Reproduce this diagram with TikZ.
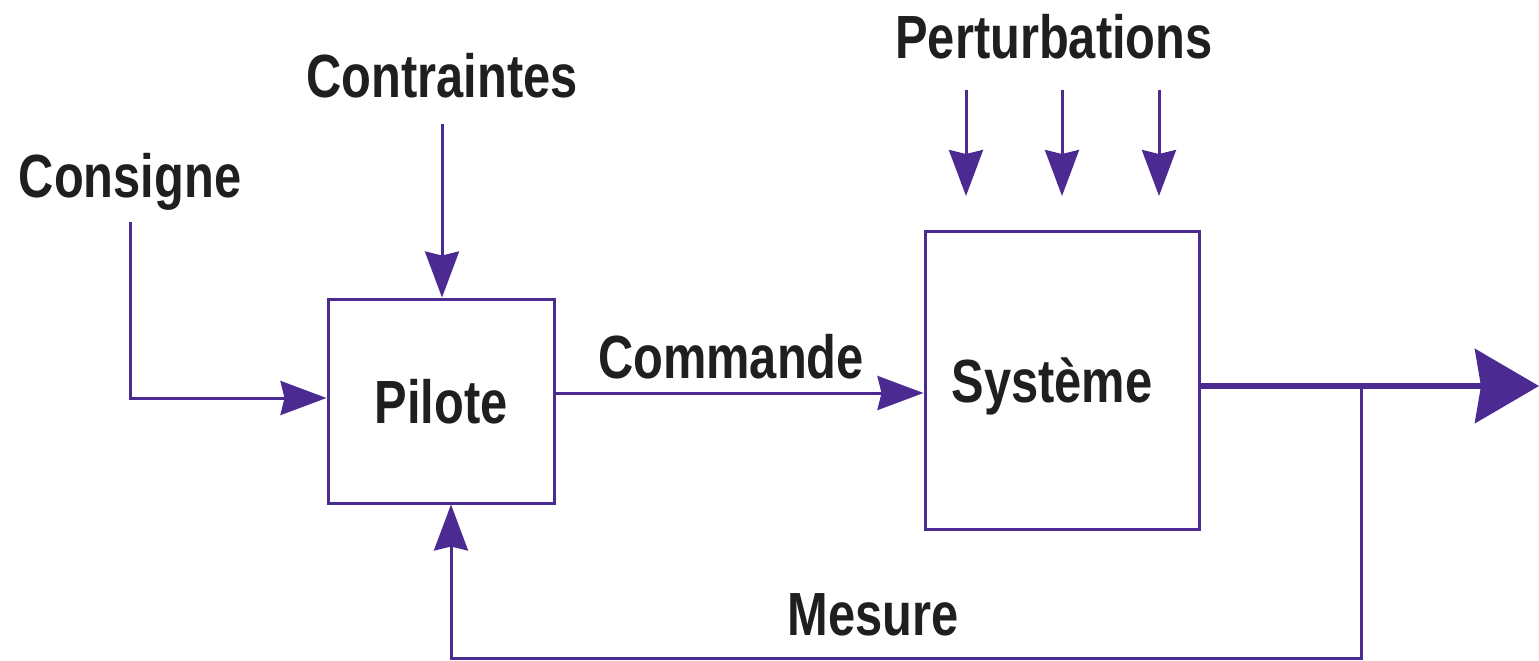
\documentclass[tikz,border=0pt]{standalone}
\usepackage{fontspec}
\setmainfont{Liberation Sans}[FakeStretch=0.8]
\usetikzlibrary{arrows.meta}
\definecolor{ink}{RGB}{75,42,145}
\begin{document}
\begin{tikzpicture}[x=0.5pt,y=-0.5pt,
  lbl/.style={font=\bfseries\fontsize{30.5}{36}\selectfont, text=black!88, inner sep=0pt, anchor=base},
  blk/.style={draw=ink, line width=1.5pt, font=\bfseries\fontsize{30.5}{36}\selectfont, text=black!88,
    text height=22pt, text depth=0pt, inner sep=0pt},
  conn/.style={draw=ink, line width=1.5pt, -{Stealth[length=23pt,width=17pt,inset=2pt]}},
  bigout/.style={draw=ink, line width=3pt, -{Stealth[length=32pt,width=37pt,inset=3pt]}}
]
\useasboundingbox (0,0) rectangle (1539,660);

% blocks
\node[blk, minimum width=113pt, minimum height=102pt] (pilote) at (441,401) {Pilote};
\node[blk, minimum width=137pt, minimum height=149pt] (sys) at (1062,380) {Système\hspace*{10pt}};

% labels
\node[lbl] (consigne) at (130,197) {Consigne};
\node[lbl] (contraintes) at (442,97) {Contraintes};
\node[lbl] (perturb) at (1054,58) {Perturbations};
\node[lbl] (commande) at (731,378) {Commande};
\node[lbl] (mesure) at (873,635) {Mesure};

% helper coordinates
\coordinate (cy) at (0,398);
\coordinate (my) at (0,393);
\coordinate (out) at (1539,386);
\coordinate (br) at (1361,386);
\coordinate (fb) at (451,658);

% Consigne -> Pilote
\draw[conn] ([yshift=-12.5pt]consigne.base) |- (pilote.west |- cy);
% Contraintes -> Pilote
\draw[conn] ([yshift=-13.5pt]contraintes.base) -- (contraintes.base |- pilote.north);
% Commande
\draw[conn] (pilote.east |- my) -- (sys.west |- my);
% Perturbations
\foreach \x/\n in {966/1,1062/2,1159/3}{
  \coordinate (ps\n) at (\x,90);
  \coordinate (pe\n) at (\x,196);
  \draw[conn] (ps\n) -- (pe\n);
}
% output
\draw[bigout] (sys.east |- out) -- (out);
% feedback (Mesure)
\draw[conn] (br) |- (fb) -- (fb |- pilote.south);
\end{tikzpicture}
\end{document}
